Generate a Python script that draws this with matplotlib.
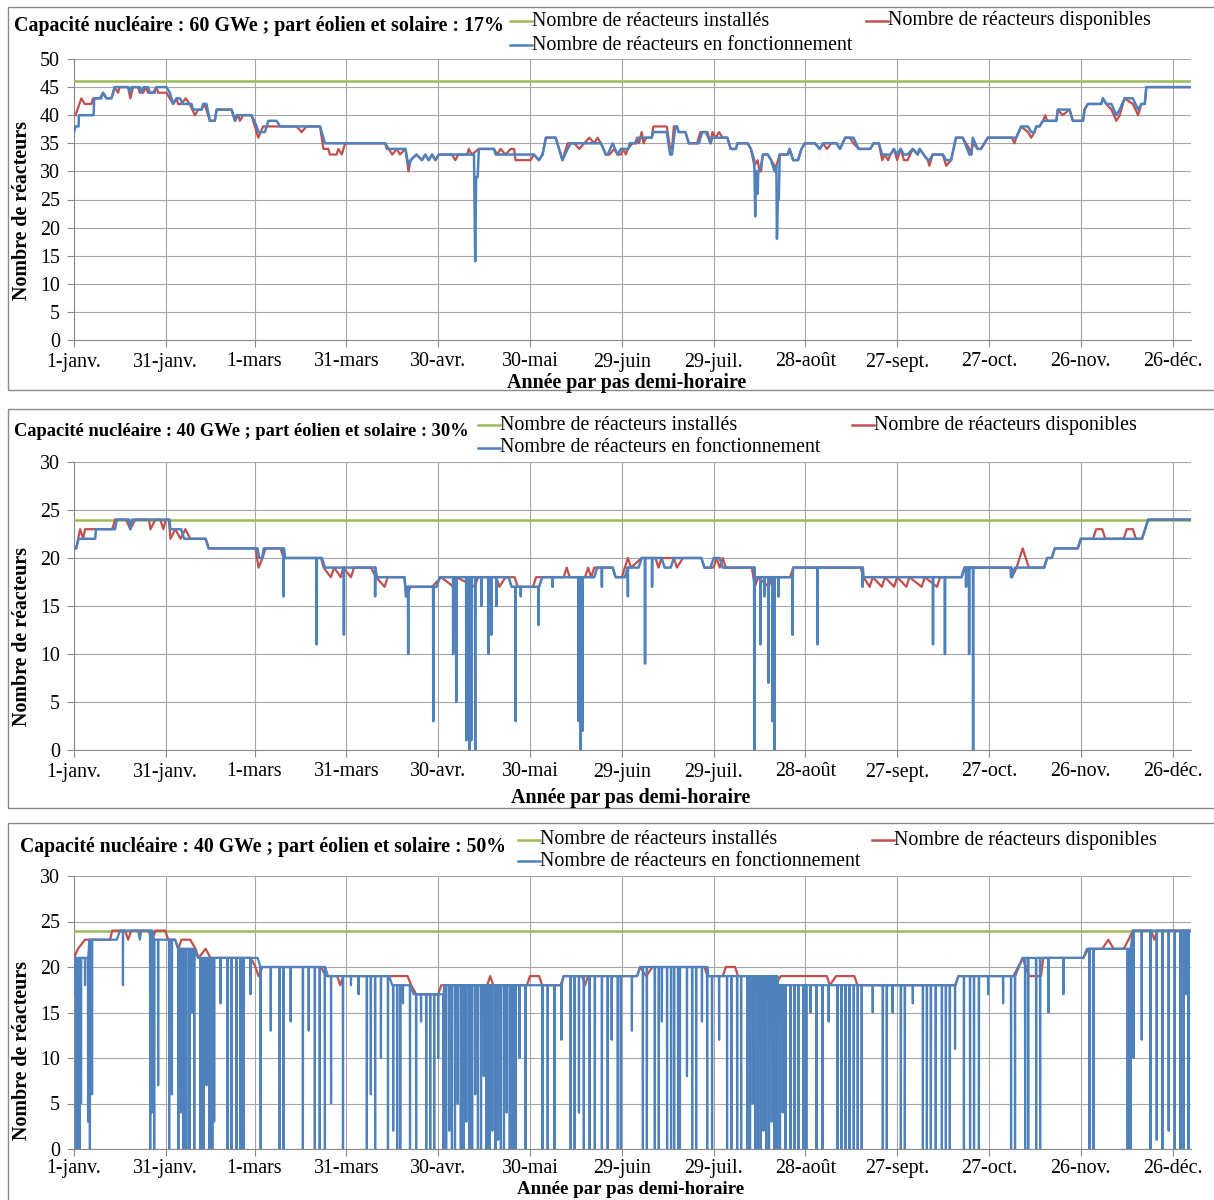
import matplotlib.pyplot as plt
import numpy as np
from matplotlib.lines import Line2D
from matplotlib.patches import Rectangle

plt.rcParams['font.family'] = ['Liberation Serif', 'DejaVu Serif']

W, H = 1214, 1200

# ---- axe des temps (jours depuis le 1er janvier) ----
JOURS_TICKS = [0, 30, 59, 89, 119, 149, 179, 209, 239, 269, 299, 329, 359]
MOIS = ['1-janv.', '31-janv.', '1-mars', '31-mars', '30-avr.', '30-mai', '29-juin',
        '29-juil.', '28-août', '27-sept.', '27-oct.', '26-nov.', '26-déc.']

TITRES = ['Capacité nucléaire : 60 GWe ; part éolien et solaire : 17%',
          'Capacité nucléaire : 40 GWe ; part éolien et solaire : 30%',
          'Capacité nucléaire : 40 GWe ; part éolien et solaire : 50%']
INSTALLES = [46, 24, 24]
Y_MAX = [50, 30, 30]

LABELS = ['Nombre de réacteurs installés', 'Nombre de réacteurs disponibles',
          'Nombre de réacteurs en fonctionnement']
VERT, ROUGE, BLEU = '#9BBB59', '#C0504D', '#4F81BD'

# ---- cas 1 : 60 GWe, 17 % ----
P1_DISPO = [(0.5, 40), (2.4, 43), (3.5, 42), (5.7, 42), (6.2, 43), (8.4, 43), (9.5, 44), (10.6, 43),
            (12.2, 43), (12.8, 44), (13.3, 45), (14.4, 44), (14.9, 45), (17.7, 45), (18.4, 43),
            (19.3, 45), (20.9, 45), (21.5, 44), (22.6, 44), (23.4, 45), (24.2, 44), (25.8, 44),
            (26.9, 45), (27.5, 44), (30.2, 44), (31.3, 43), (32.4, 42), (33.5, 43), (34, 42),
            (35.1, 42), (36.5, 43), (37.8, 42), (39.5, 40), (40.6, 41), (41.7, 41), (42.7, 42),
            (44.4, 39), (46, 39), (46.6, 41), (51.5, 41), (52.6, 39), (53.7, 40), (54.2, 39),
            (55.3, 40), (58, 40), (60.2, 36), (61.8, 38), (72.7, 38), (74.4, 37), (76, 38),
            (80.4, 38), (81.5, 34), (83.1, 34), (83.6, 33), (85.8, 33), (86.4, 34), (87.5, 33),
            (88.6, 35), (101.7, 35), (102.8, 34), (104, 33), (105.5, 34), (106.5, 33), (108.3, 34),
            (109.3, 30), (110, 32), (111.9, 33), (113.7, 32), (114.8, 33), (115.9, 32), (117, 33),
            (118.1, 32), (119.2, 33), (123.5, 33), (124.6, 32), (125.6, 33), (128.5, 33), (129, 34),
            (130, 33), (132.3, 34), (137.2, 34), (138.3, 33), (139.4, 34), (141, 33), (142.7, 34),
            (143.8, 34), (144.3, 32), (149.2, 32), (150.3, 33), (151.9, 32), (153.1, 33), (154.2, 36),
            (157.4, 36), (159.6, 32), (161.3, 35), (163.5, 35), (165.1, 34), (168.4, 36), (170, 35),
            (171.1, 36), (172.2, 35), (173.8, 33), (175, 33), (176.5, 34), (177.6, 33), (178.7, 33),
            (179.5, 34), (180.3, 33), (181, 34), (182.5, 35), (183.3, 35), (184, 36), (184.6, 35),
            (185.5, 37), (186.1, 35), (187, 36), (188.8, 36), (189.3, 38), (193.7, 38), (194.8, 34),
            (195.4, 34), (196, 38), (197, 38), (197.6, 37), (199.8, 37), (200.9, 35), (203.6, 35),
            (204.7, 37), (207, 37), (208, 35), (208.6, 37), (209.7, 36), (210.8, 37), (212, 36),
            (213.5, 36), (214.6, 34), (216.3, 34), (216.8, 35), (220.1, 35), (221.2, 34), (222.3, 31),
            (223.4, 32), (224, 30), (224.5, 30), (225.1, 33), (226.7, 33), (227.8, 32), (228.9, 31),
            (229.5, 31), (230.6, 33), (233.3, 33), (233.8, 34), (235, 32), (236.6, 32), (237.7, 34),
            (238.8, 35), (242.1, 35), (243.7, 34), (244.8, 35), (246, 34), (247.5, 35), (249.2, 35),
            (250.3, 34), (252, 36), (253.5, 36), (254.7, 35), (256.4, 34), (260.2, 34), (261.3, 35),
            (263, 35), (264.1, 32), (265, 33), (266, 32), (266.8, 33), (267.9, 34), (269, 32),
            (270.1, 34), (271.2, 32), (272.4, 32), (274.1, 34), (275.7, 33), (276.3, 34), (279, 32),
            (279.5, 31), (280.6, 33), (283.9, 33), (285, 31), (286.6, 32), (288.2, 36), (290.4, 36),
            (292.6, 34), (293.2, 33), (293.7, 35), (295.3, 34), (296.4, 34), (297.5, 35), (298.6, 36),
            (306.5, 36), (307.3, 35), (307.9, 36), (309.5, 38), (311.7, 37), (312.8, 36), (313.9, 37),
            (314.4, 38), (315.5, 38), (316.6, 39), (317.4, 40), (318, 39), (321, 39), (321.5, 41),
            (323, 40), (325.3, 41), (326.4, 39), (329.7, 39), (330.2, 41), (331.3, 42), (335.7, 42),
            (336.2, 43), (337.3, 42), (339, 41), (340.6, 39), (341.7, 40), (343.3, 43), (346, 42),
            (347.7, 40), (348.8, 42), (349.9, 42), (350.4, 45), (365, 45)]

P1_FONC = [(0, 37), (0.5, 38), (1.5, 38), (1.6, 40), (6.4, 40), (6.6, 43), (8.9, 43), (9.5, 44),
           (10.6, 43), (12.2, 43), (12.8, 44), (13.3, 45), (17.7, 45), (18.2, 44), (18.8, 45),
           (21.5, 45), (22.1, 44), (22.8, 45), (24.2, 45), (24.8, 44), (26.4, 44), (26.9, 45),
           (30.2, 45), (31.3, 44), (32.4, 42), (33.5, 43), (34.6, 43), (35.7, 42), (38.4, 42),
           (38.9, 41), (41.7, 41), (42.2, 42), (43.3, 42), (44.4, 39), (46, 39), (46.6, 41),
           (51.5, 41), (52.6, 39), (53.1, 40), (58, 40), (59.7, 38), (60.2, 37), (62.4, 37),
           (63.5, 39), (66.2, 39), (67.3, 38), (80.4, 38), (82, 35), (101.7, 35), (102.2, 34),
           (108.3, 34), (109.3, 31), (110, 32), (111.9, 33), (113.7, 32), (114.8, 33), (115.9, 32),
           (117, 33), (118.1, 32), (119.2, 33), (130.7, 33), (131.1, 14), (131.4, 29), (131.9, 29),
           (132.3, 34), (137.2, 34), (137.8, 33), (150.3, 33), (151.9, 32), (153.1, 33), (154.2, 36),
           (157.4, 36), (159.6, 32), (161.3, 34), (162.3, 35), (172.2, 35), (173.8, 33), (174.4, 33),
           (176, 35), (177.6, 33), (178.7, 34), (181.1, 34), (181.6, 35), (183.8, 35), (184.4, 36),
           (188.8, 36), (189.3, 37), (193.7, 37), (194.8, 33), (195.4, 33), (196.5, 38), (197, 38),
           (197.6, 37), (199.8, 37), (200.9, 35), (204.2, 35), (205.3, 37), (206.5, 37), (208, 35),
           (208.6, 36), (213.5, 36), (214.6, 34), (216.3, 34), (216.8, 35), (220.1, 35), (221.2, 34),
           (222.3, 32), (222.6, 22), (222.8, 30), (223.2, 30), (223.4, 26), (223.6, 30), (224.5, 31),
           (225.1, 33), (226.7, 33), (227.8, 32), (228.9, 30), (229.5, 31), (229.7, 18), (230, 25),
           (230.3, 25), (230.6, 33), (233.3, 33), (233.8, 34), (235, 32), (236.6, 32), (237.7, 34),
           (238.8, 35), (242.1, 35), (243.7, 34), (244.8, 35), (249.2, 35), (250.3, 34), (252, 36),
           (254.7, 36), (256.4, 34), (260.2, 34), (261.3, 35), (263, 35), (264.1, 33), (266.8, 33),
           (267.9, 34), (269, 33), (270.1, 34), (271.2, 33), (272.4, 33), (274.1, 34), (275.7, 33),
           (276.3, 34), (279, 32), (279.5, 32), (280.6, 33), (283.9, 33), (285, 32), (286.6, 32),
           (288.2, 36), (290.4, 36), (292.6, 33), (293.2, 33), (293.7, 36), (295.3, 34), (296.4, 34),
           (297.5, 35), (298.6, 36), (307.9, 36), (309.5, 38), (311.7, 38), (312.8, 37), (313.9, 37),
           (314.4, 38), (315.5, 38), (316.6, 39), (321, 39), (321.5, 41), (325.3, 41), (326.4, 39),
           (329.7, 39), (330.2, 41), (331.3, 42), (335.7, 42), (336.2, 43), (337.3, 42), (339, 42),
           (340.6, 40), (341.7, 41), (343.3, 43), (346, 43), (347.7, 41), (348.8, 42), (349.9, 42),
           (350.4, 45), (365, 45)]
P1_ARRETS = []

# ---- cas 2 : 40 GWe, 30 % ----
P2_DISPO = [(0, 21), (0.7, 21), (2, 23), (3, 22), (3.6, 23), (12.5, 23), (13.4, 24), (17, 24),
            (18.4, 23), (20, 24), (24.5, 24), (25, 23), (26.6, 24), (28.2, 24), (29.2, 23), (30, 24),
            (31, 24), (31.5, 22), (33.1, 23), (34.8, 22), (36.4, 23), (38, 22), (43, 22), (44, 21),
            (59.3, 21), (60.3, 19), (61.6, 20), (62.6, 21), (67.5, 21), (68.5, 20), (80.7, 20),
            (81.6, 19), (83.9, 18), (85, 19), (87.2, 18), (88, 19), (90.5, 18), (91.5, 19), (97, 19),
            (98.7, 18), (101.5, 17), (102.5, 18), (108, 18), (108.5, 16), (110, 17), (117, 17),
            (120, 18), (124, 17), (125, 18), (131, 17), (132, 18), (138, 18), (139, 17), (141, 18),
            (144, 18), (145, 17), (150, 17), (151, 18), (160, 18), (161, 19), (162, 18), (167, 18),
            (168, 19), (169, 18), (170, 19), (176, 19), (177, 18), (179, 18), (180, 19), (181, 20),
            (182, 19), (185.5, 20), (190, 20), (191, 19), (192, 20), (196, 20), (197, 19), (199, 20),
            (205, 20), (206, 19), (209, 19), (210, 20), (211, 19), (212, 20), (213, 19), (221.5, 19),
            (222.5, 17), (223.5, 18), (227, 17), (228, 18), (234, 18), (235, 19), (257, 19),
            (258, 18), (260, 17), (261, 18), (264, 17), (265, 18), (268, 17), (269, 18), (272, 17),
            (273, 18), (277, 17), (278, 18), (282, 17), (283, 18), (290, 18), (291, 19), (306, 19),
            (306.5, 18), (308, 19), (310, 21), (311, 20), (312, 19), (317, 19), (318, 20),
            (319.5, 20), (320.5, 21), (328, 21), (329, 22), (333, 22), (334, 23), (336, 23),
            (337, 22), (343, 22), (344, 23), (346, 23), (347, 22), (349, 22), (351, 24), (365, 24)]

P2_FONC = [(0, 21), (0.7, 21), (1.5, 22), (6.9, 22), (7.2, 23), (13.4, 23), (14, 24), (18, 24),
           (18.4, 23), (19, 24), (31.2, 24), (31.5, 23), (35, 23), (36, 22), (43, 22), (44, 21),
           (60, 21), (60.5, 20), (61.5, 20), (62, 21), (68, 21), (69, 20), (81, 20), (82, 19),
           (98, 19), (99, 18), (108, 18), (108.5, 16), (109, 17), (118.5, 17), (119.5, 18),
           (142, 18), (143, 17), (152, 17), (153, 18), (170, 18), (171, 19), (176, 19), (177, 18),
           (180, 18), (181, 19), (184.5, 19), (185.5, 20), (192, 20), (193, 19), (195, 19),
           (196, 20), (205, 20), (206, 19), (208, 19), (209, 20), (211, 20), (212, 19), (221.5, 19),
           (222.5, 18), (234, 18), (235, 19), (257, 19), (258, 18), (290, 18), (291, 19), (306, 19),
           (306.5, 18), (307.5, 19), (317, 19), (318, 20), (319.5, 20), (320.5, 21), (328, 21),
           (329, 22), (349, 22), (351, 24), (365, 24)]

P2_ARRETS = [(68.5, 16), (79.3, 11), (88.2, 12), (98.4, 16), (109.2, 10), (113, 17), (117.4, 3),
             (123.9, 10), (124.9, 5), (128.2, 1), (129.2, 0), (129.8, 1), (131.1, 0), (133.1, 15),
             (135.4, 10), (136.4, 12), (138, 15), (144.3, 3), (146, 16), (151.8, 13), (156.4, 17),
             (164.9, 3), (165.6, 0), (166.2, 2), (172.5, 17), (181, 16), (186.6, 9), (188.9, 17),
             (222.3, 0), (224.3, 11), (225.6, 16), (226.9, 7), (228.2, 3), (228.9, 0), (230.2, 16),
             (234.8, 12), (243, 11), (257.7, 17), (280.7, 11), (284.6, 10), (291.5, 17), (292.5, 10),
             (293.8, 0), (306.2, 18)]

# ---- cas 3 : 40 GWe, 50 % ----
P3_DISPO = [(0, 21), (1.3, 22), (3.6, 23), (11.8, 23), (12.5, 24), (16.7, 24), (17.7, 23),
            (18.7, 24), (24.3, 24), (25.6, 23), (26.6, 24), (29.8, 24), (30.8, 23), (33.1, 23),
            (34.1, 22), (35.1, 23), (38, 23), (39.7, 22), (40.7, 21), (43, 22), (44.6, 21),
            (57.7, 21), (59.3, 20), (60.3, 19), (61.6, 20), (80.7, 20), (82.3, 19), (86, 19),
            (87, 18), (88, 19), (109, 19), (110.2, 18), (111.8, 17), (119, 17), (120, 18), (135, 18),
            (136, 19), (137, 18), (148, 18), (149, 19), (152, 19), (153, 18), (159, 18), (160, 19),
            (166, 19), (167, 18), (168, 19), (184, 19), (185, 20), (187, 19), (189, 20), (206, 20),
            (207, 19), (212, 19), (213, 20), (216, 20), (217, 19), (228, 19), (229, 18), (231, 19),
            (246, 19), (247, 18), (249, 19), (255, 19), (256, 18), (288, 18), (289, 19), (307, 19),
            (308.5, 20), (310, 21), (311, 20), (312, 19), (316, 19), (316.7, 21), (329.8, 21),
            (331.5, 22), (336, 22), (338, 23), (339.7, 22), (343, 22), (344.6, 23), (346, 24),
            (352, 24), (353, 23), (354, 24), (365, 24)]

P3_FONC = [(0, 21), (4, 21), (5, 23), (14, 23), (15, 24), (21, 24), (21.5, 23), (22, 24), (25, 24),
           (26, 23), (33, 23), (34, 22), (39, 22), (40.5, 21), (60, 21), (61, 20), (82, 20),
           (83, 19), (103, 19), (104, 18), (110, 18), (111, 17), (120, 17), (121, 18), (159, 18),
           (160, 19), (184, 19), (185, 20), (206, 20), (207, 19), (229, 19), (230, 18), (288, 18),
           (289, 19), (306, 19), (310, 21), (329.8, 21), (331, 22), (345, 22), (346, 24), (365, 24)]

P3_ARRETS = [(0.3, 17), (0.8, 0), (1.3, 9), (1.8, 0), (2.3, 5), (3.6, 18), (4.6, 3), (5.2, 0),
             (5.9, 6), (16, 18), (24.9, 0), (25.5, 4), (26.2, 0), (27.5, 7), (31.1, 0), (32, 6),
             (34.1, 0), (35, 4), (35.8, 0), (36.7, 0), (37.7, 0), (38.5, 15), (39.3, 0), (41.3, 0),
             (42.3, 0), (43.3, 7), (44.3, 0), (45.2, 0), (45.8, 3), (47.9, 16), (50.2, 0), (51.5, 0),
             (53.1, 0), (54.4, 0), (55.4, 0), (57.7, 17), (61, 0), (64.3, 13), (67.2, 0), (68.5, 0),
             (70.8, 14), (74.8, 0), (76.7, 13), (78.7, 0), (80.3, 0), (82, 0), (84, 5), (87.9, 0),
             (90.5, 18), (93, 17), (95.7, 0), (97, 6), (98.4, 0), (100.3, 10), (102.6, 0),
             (104.3, 2), (105.6, 0), (106.6, 0), (107.5, 16), (109.8, 0), (111.8, 0), (113.4, 14),
             (115.1, 0), (116.4, 0), (117.7, 0), (119, 10), (120.7, 0), (121.6, 0), (122.6, 2),
             (123.5, 0), (124.5, 0), (125.4, 5), (126.4, 0), (127.3, 0), (128.2, 3), (129.2, 0),
             (130.1, 0), (131.1, 6), (132, 0), (133, 0), (133.9, 8), (134.8, 0), (135.8, 0),
             (136.7, 2), (137.7, 0), (138.6, 1), (139.5, 0), (140.5, 0), (141.4, 4), (142.4, 0),
             (143.3, 0), (144.3, 0), (145.6, 10), (147.5, 0), (149.5, 18), (153.1, 0), (154.8, 0),
             (157, 0), (159.3, 12), (162.3, 0), (163.6, 0), (165, 4), (166.6, 0), (168.5, 0),
             (170.2, 0), (172.5, 0), (174.4, 0), (175.7, 12), (177.7, 0), (178.7, 0), (182.3, 13),
             (185.9, 0), (187.2, 0), (189.8, 0), (191.1, 0), (192.1, 14), (193.8, 0), (195.1, 0),
             (196.1, 0), (197.4, 0), (198, 0), (200.3, 8), (202, 0), (203.3, 0), (205.2, 14),
             (206.9, 0), (208.5, 0), (210.8, 12), (213.4, 0), (214.8, 0), (216.7, 0), (218, 0),
             (220, 0), (220.9, 0), (221.8, 5), (222.6, 0), (223.5, 0), (224.4, 0), (225.3, 2),
             (226.2, 0), (227.1, 0), (228, 3), (228.9, 0), (229.8, 0), (230.7, 0), (231.6, 4),
             (232.5, 0), (234.1, 0), (235.4, 0), (236.7, 0), (238.4, 0), (239.3, 0), (240.7, 15),
             (242.6, 0), (244.6, 0), (246.6, 14), (249.5, 0), (250.8, 0), (252.1, 0), (253.4, 0),
             (254.8, 0), (256.1, 0), (257.4, 0), (261, 15), (264.3, 0), (265.6, 0), (267.5, 15),
             (270.2, 0), (271.5, 0), (274.1, 16), (277.4, 0), (278.7, 0), (280, 0), (281.6, 0),
             (283.6, 0), (284.9, 0), (286.2, 0), (287.9, 11), (290.8, 0), (292.8, 0), (294.1, 0),
             (295.7, 0), (298.7, 17), (303.6, 16), (306.2, 0), (307.5, 0), (310.8, 0), (311.8, 0),
             (314.4, 0), (315.7, 0), (318.4, 15), (323.3, 17), (331.8, 0), (333.1, 0), (344.3, 0),
             (345.2, 0), (346.2, 10), (348.9, 12), (351.8, 0), (353.8, 1), (355.7, 0), (357.7, 2),
             (359.7, 0), (361.6, 0), (362.6, 0), (363.5, 17), (364.2, 0)]

CAS = [(P1_DISPO, P1_FONC, P1_ARRETS), (P2_DISPO, P2_FONC, P2_ARRETS), (P3_DISPO, P3_FONC, P3_ARRETS)]

# position des éléments de chaque cadre (pixels de l'image)
AXES_PX = [(59, 340), (462, 750), (876, 1149)]          # haut, bas du tracé
CADRES_PX = [(7, 390), (409, 808), (823, 1215)]
TITRE_PX = [(14, 26, 14.4), (14, 431, 13.3), (20, 847, 14.2)]
LEG_PX = [(510, 866, 21, 45), (478, 852, 425, 448), (518, 872, 840, 861)]
YLAB_Y = [210, 636, 1050]
XLAB_PX = [(627, 383, 14.4), (631, 798, 14.4), (631, 1190, 13.6)]
TICK_PAD = [4, 4, 2]
X0, X1 = 74, 1191


def fx(x):
    return x / W


def fy(y):
    return 1 - y / H


def avec_arrets(base, arrets, demi=0.06):
    """Ajoute les arrêts ponctuels (descente verticale) à la courbe de base."""
    jours = [p[0] for p in base]
    vals = [p[1] for p in base]
    pts = list(base)
    for j, v in arrets:
        k = max(np.searchsorted(jours, j, side='right') - 1, 0)
        niveau = vals[k]
        pts += [(j - demi, niveau), (j, v), (j + demi, niveau)]
    pts.sort()
    return np.array(pts).T


fig = plt.figure(figsize=(W / 100, H / 100), dpi=100)

for i, (dispo, fonc, arrets) in enumerate(CAS):
    haut, bas = AXES_PX[i]
    ax = fig.add_axes([fx(X0), fy(bas), fx(X1 - X0), (bas - haut) / H])

    # cadre du graphique
    c0, c1 = CADRES_PX[i]
    fig.add_artist(Rectangle((fx(8), fy(c1)), fx(1225 - 8), (c1 - c0) / H,
                             transform=fig.transFigure, fill=False,
                             edgecolor='#8a8a8a', lw=1.0))

    ax.axhline(INSTALLES[i], color=VERT, lw=1.8, zorder=3)
    xd, yd = np.array(dispo).T
    ax.plot(xd, yd, color=ROUGE, lw=1.6, zorder=4)
    xf, yf = avec_arrets(fonc, arrets)
    ax.plot(xf, yf, color=BLEU, lw=1.8 if i < 2 else 1.6, zorder=5)

    ax.set_xlim(0, 365)
    ax.set_ylim(0, Y_MAX[i])
    ax.set_yticks(np.arange(0, Y_MAX[i] + 1, 5))
    ax.set_xticks(JOURS_TICKS)
    ax.set_xticklabels(MOIS)
    ax.tick_params(labelsize=14.4, length=5, width=0.8, color='#8a8a8a', direction='out')
    ax.tick_params(axis='x', pad=TICK_PAD[i])
    ax.tick_params(axis='y', pad=5)
    ax.grid(True, color='#a6a6a6', lw=0.8)
    ax.set_axisbelow(True)
    for s in ['top', 'right']:
        ax.spines[s].set_visible(False)
    for s in ['left', 'bottom']:
        ax.spines[s].set_color('#8a8a8a')
        ax.spines[s].set_linewidth(0.8)

    tx, ty, ts = TITRE_PX[i]
    fig.text(fx(tx), fy(ty), TITRES[i], fontsize=ts, fontweight='bold', ha='left', va='center')

    # légende
    xa, xb, r1, r2 = LEG_PX[i]
    for xh, yh, col, lab in [(xa, r1, VERT, LABELS[0]), (xb, r1, ROUGE, LABELS[1]),
                             (xa, r2, BLEU, LABELS[2])]:
        fig.add_artist(Line2D([fx(xh), fx(xh + 22)], [fy(yh), fy(yh)], color=col, lw=1.8,
                              transform=fig.transFigure))
        fig.text(fx(xh + 22), fy(yh), lab, fontsize=14.4, ha='left', va='center')

    fig.text(fx(22), fy(YLAB_Y[i]), 'Nombre de réacteurs', rotation=90, fontsize=14.4,
             fontweight='bold', ha='center', va='center')
    lx, ly, ls = XLAB_PX[i]
    fig.text(fx(lx), fy(ly), 'Année par pas demi-horaire', fontsize=ls, fontweight='bold',
             ha='center', va='center')

fig.savefig('out.png', dpi=100)
